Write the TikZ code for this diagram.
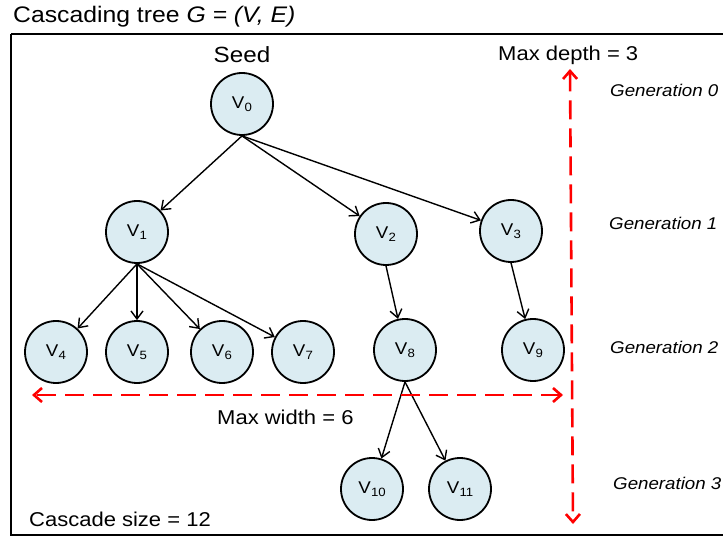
\documentclass[tikz,border=0pt]{standalone}
\usepackage{fontspec}
\setmainfont{Liberation Sans}[FakeStretch=1.1]
\usetikzlibrary{arrows.meta, positioning}
\definecolor{vertexfill}{HTML}{DBECF2}
\definecolor{measurered}{HTML}{FF0000}

\newcommand{\vlabel}[1]{V\kern0.3pt\raisebox{-3pt}{\fontsize{12}{12}\selectfont #1}}

\begin{document}
\begin{tikzpicture}[
    x=1pt, y=-1pt,
    vertex/.style={
        draw=black, line width=1.8pt, circle,
        minimum size=62pt, inner sep=0pt, fill=vertexfill,
        font=\fontsize{17}{17}\selectfont
    },
    edge/.style={
        -{Straight Barb[length=8pt, width=12pt]}, line width=1.4pt
    },
    measure/.style={
        {Straight Barb[length=8pt, width=14pt]}-{Straight Barb[length=8pt, width=14pt]},
        draw=measurered, line width=2.6pt, dash pattern=on 19pt off 9pt
    },
    plaintext/.style={
        inner sep=0pt, anchor=base west, font=\fontsize{20}{20}\selectfont
    },
    gentext/.style={
        inner sep=0pt, anchor=base west, font=\fontsize{17}{17}\selectfont\itshape
    },
]

% === Canvas ===
\clip (0,0) rectangle (723,537);
\draw[line width=1.2pt] (11,34) -- (740,34);
\draw[line width=1.2pt] (11,34) -- (11,535) -- (740,535);

% === Titles ===
\node[plaintext, font=\fontsize{22.5}{22.5}\selectfont] (title) at (13,23)
    {Cascading tree \textit{G = (V, E)}};
\node[plaintext, anchor=base, font=\fontsize{22}{22}\selectfont] (seed) at (242,63) {Seed};

% === Vertices ===
\foreach \n/\x/\y in {0/242/104, 1/137/232, 2/386/234, 3/511/231,
                      4/56/352, 5/137/352, 6/222/352, 7/303/352,
                      8/405/350, 9/533/350, 10/372/489, 11/460/489} {
    \node[vertex] (v\n) at (\x,\y) {\vlabel{\n}};
}

% === Edges ===
\foreach \j in {1,2,3} {
    \draw[edge] (v0.south) -- (v\j);
}
\foreach \j in {4,5,6,7} {
    \draw[edge] (v1.south) -- (v\j);
}
\draw[edge] (v2.south) -- (v8);
\draw[edge] (v3.south) -- (v9);
\foreach \j in {10,11} {
    \draw[edge] (v8.south) -- (v\j);
}

% === Width and depth markers ===
\coordinate (widthleft) at (32,395);
\coordinate (widthright) at (563,395);
\coordinate (depthtop) at (570,69);
\coordinate (depthbottom) at (573,524);
\draw[measure] (widthright) -- (widthleft);
\draw[measure] (depthtop) -- (depthbottom);

\node[plaintext] (maxdepth) at (498,61) {Max depth = 3};
\node[plaintext] (maxwidth) at (217,424) {Max width = 6};
\node[plaintext] (cascadesize) at (29,526) {Cascade size = 12};

% === Generation labels ===
\node[gentext] (gen0) at (610,97) {Generation 0};
\node[gentext] (gen1) at (609,230) {Generation 1};
\node[gentext] (gen2) at (610,354) {Generation 2};
\node[gentext] (gen3) at (613,489) {Generation 3};

\end{tikzpicture}
\end{document}
